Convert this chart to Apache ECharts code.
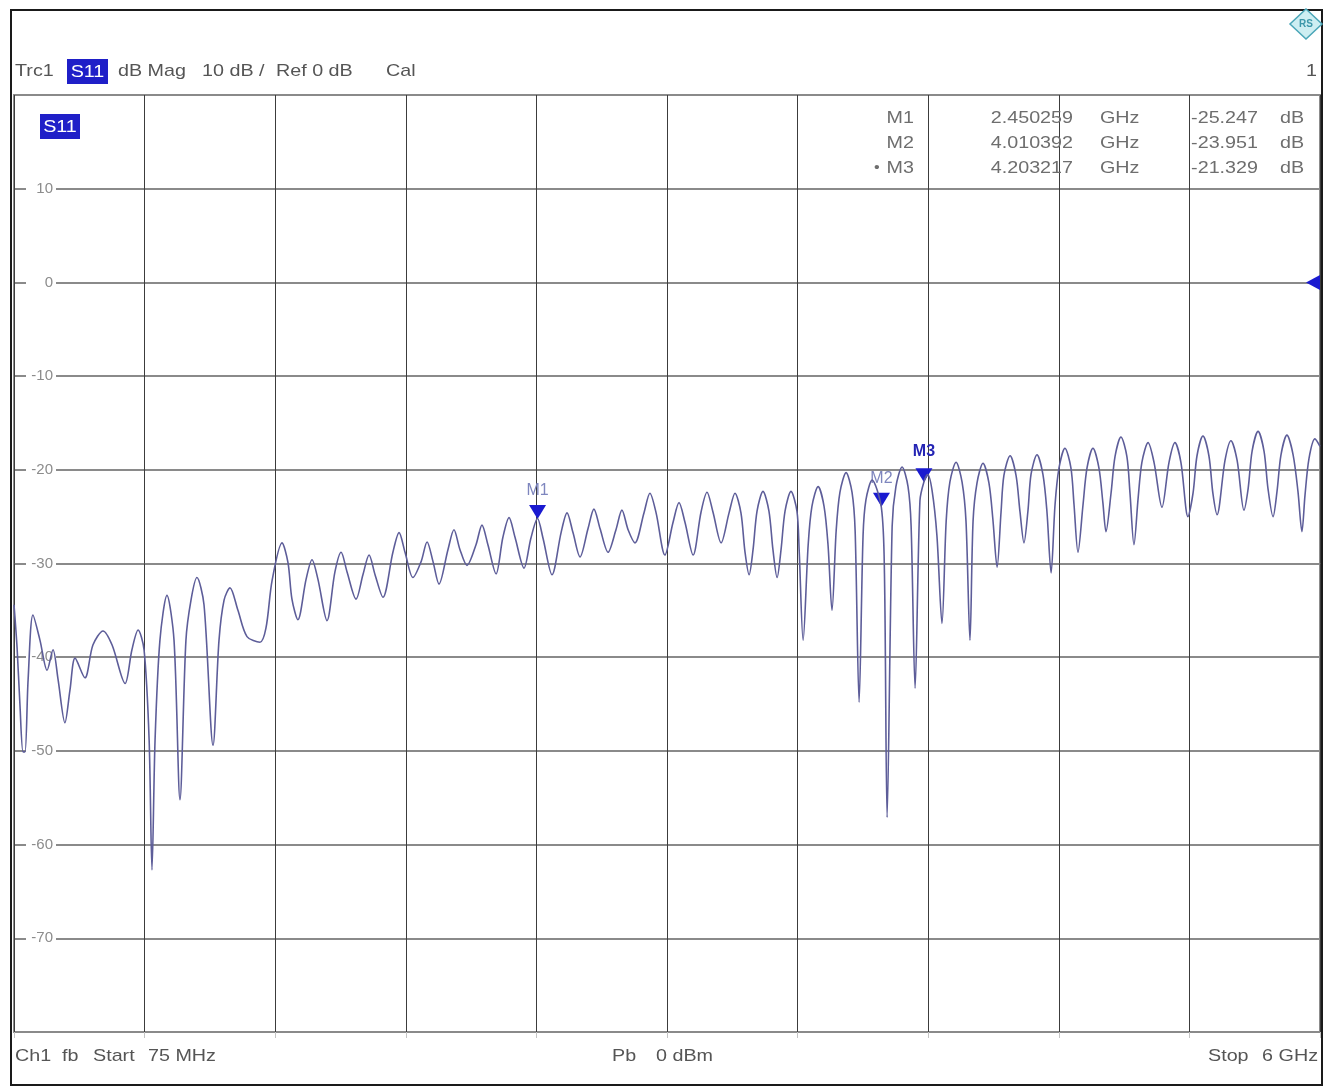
<!DOCTYPE html>
<html><head><meta charset="utf-8">
<script src="https://cdn.jsdelivr.net/npm/echarts/dist/echarts.min.js"></script>
<style>html,body{margin:0;padding:0;background:#fff}#c{width:1329px;height:1088px}</style>
</head><body><div id="c"></div>
<script>
// ---- data (frequency in MHz, S11 in dB) ----
const freqMHz = [
75,89,102,116,125,139,161,193,225,252,275,306,329,352,397,433,479,520,579,610,638,665,688,701,715,737,769,801,828,855,878,905,937,978,1005,1028,1055,1091,1132,1191,1218,1246,1291,
1318,1336,1363,1400,1427,1454,1495,1531,1559,1586,
1627,1658,1686,1713,1749,1794,1822,1849,1885,1922,
1949,1976,2003,2044,2071,2098,2130,2171,2198,2225,
2262,2293,2321,2348,2389,2420,2450,2475,2516,2557,
2584,2611,2643,2679,2706,2734,2770,2806,2833,2861,
2892,2933,2960,2988,3028,3065,3092,3119,3156,3192,
3219,3246,3283,3319,3346,3373,3391,3410,3428,3446,
3473,3500,3518,3537,3555,3573,3600,3627,3637,3655,
3678,3695,3723,3750,3768,3786,3805,3822,3850,3877,
3891,3909,3927,3940,3968,4010,4024,4036,4059,4076,
4104,4131,4145,4163,4185,4203,4220,4240,4262,4285,
4304,4321,4349,4376,4394,4412,4426,4444,4471,4498,
4516,4535,4553,4566,4594,4621,4639,4657,4675,4689,
4716,4743,4761,4780,4798,4816,4843,4870,4884,4902,
4925,4943,4970,4997,5015,5029,5052,5070,5097,5124,
5138,5156,5175,5192,5220,5247,5283,5315,5342,5369,
5401,5424,5442,5469,5496,5514,5533,5569,5596,5624,
5655,5674,5692,5719,5746,5764,5787,5805,5823,5850,
5878,5900,5918,5932,5950,5977,6000];
const s11dB = [
-34.4,-39.0,-45.1,-50.1,-50.1,-42.4,-35.5,-38.2,-41.4,-39.2,-42.4,-47.0,-43.5,-40.1,-42.2,-38.7,-37.2,-38.7,-42.8,-39.2,-37.1,-39.2,-48.8,-62.7,-48.8,-38.2,-33.4,-38.2,-55.2,-38.2,-33.9,-31.5,-34.4,-49.4,-38.2,-33.9,-32.6,-35.0,-37.8,-38.4,-36.9,-31.8,-27.8,
-29.9,-33.8,-36.0,-31.7,-29.6,-31.7,-36.1,-30.9,-28.8,-30.9,
-33.8,-31.2,-29.1,-31.2,-33.6,-28.8,-26.7,-28.8,-31.5,-29.8,
-27.7,-29.8,-32.2,-28.5,-26.4,-28.5,-30.2,-28.0,-25.9,-28.0,
-31.1,-27.2,-25.1,-27.2,-30.5,-27.3,-25.2,-27.3,-31.2,-26.7,
-24.6,-26.7,-29.3,-26.3,-24.2,-26.3,-28.8,-26.4,-24.3,-26.4,
-27.8,-24.6,-22.5,-24.6,-29.1,-25.6,-23.5,-25.6,-29.1,-24.5,
-22.4,-24.5,-27.8,-24.6,-22.5,-24.6,-28.7,-31.2,-28.5,-24.4,
-22.3,-24.4,-28.5,-31.5,-28.5,-24.4,-22.3,-24.4,-28.5,-38.2,
-28.0,-23.9,-21.8,-23.9,-28.0,-35.0,-26.5,-22.4,-20.3,-22.4,
-26.5,-44.8,-27.0,-23.2,-21.1,-24.0,-31.0,-57.1,-26.0,-21.8,
-19.7,-21.8,-26.0,-43.3,-23.3,-21.3,-20.5,-22.2,-27.0,-36.4,
-25.5,-21.3,-19.2,-21.3,-25.5,-38.2,-25.5,-21.4,-19.3,-21.4,
-25.3,-30.4,-24.5,-20.6,-18.5,-20.6,-24.5,-27.8,-24.4,-20.5,
-18.4,-20.5,-24.4,-31.0,-23.7,-19.8,-17.7,-19.8,-23.7,-28.8,
-23.7,-19.8,-17.7,-19.8,-23.5,-26.6,-22.5,-18.6,-16.5,-18.6,
-22.5,-28.0,-23.0,-19.2,-17.1,-19.2,-24.0,-19.2,-17.1,-19.2,
-25.0,-22.5,-18.5,-16.4,-18.5,-22.5,-24.8,-19.0,-16.9,-19.0,
-24.3,-22.0,-18.0,-15.9,-18.0,-22.0,-25.0,-22.3,-18.4,-16.3,
-18.4,-22.3,-26.6,-22.7,-18.8,-16.7,-17.5];
const markerNames = ['M1','M2','M3'];
const markerFreqMHz = [2450.259, 4010.392, 4203.217];
const markerDB = [-25.247, -23.951, -21.329];
const startMHz = 75, stopMHz = 6000;
const refLevelDB = 0;
const yMin = -80, yMax = 20, yStep = 10;
const divisions = 10;

// ---- helpers ----
const FONT = '"Liberation Sans", Arial, sans-serif';
function txt(s, x, y, o) {
  o = o || {};
  const al = o.align || 'left';
  return {type:'text', x:x, y:y, scaleX:o.sx || 1.16, z:100, silent:true,
    style:{text:s, fill:o.fill || '#555', fontSize:o.size || 17, fontFamily:FONT,
      fontWeight:o.weight || 'normal', align:al, textAlign:al,
      verticalAlign:'middle', textVerticalAlign:'middle'}};
}
const BLUE = '#1f1fc8';
const els = [];
els.push({type:'rect', z:0, silent:true, shape:{x:11, y:10, width:1311, height:1075}, style:{fill:'none', stroke:'#1a1a1a', lineWidth:2}});
// header
els.push(txt('Trc1', 15, 71));
els.push({type:'rect', z:99, silent:true, shape:{x:67, y:59, width:41, height:25}, style:{fill:BLUE}});
els.push(txt('S11', 87.5, 72, {fill:'#fff', align:'center'}));
els.push(txt('dB Mag', 118, 71));
els.push(txt('10 dB /', 202, 71));
els.push(txt('Ref 0 dB', 276, 71));
els.push(txt('Cal', 386, 71));
els.push(txt('1', 1317, 71, {align:'right'}));
// R&S logo
els.push({type:'polygon', z:100, silent:true, shape:{points:[[1306,9],[1322,24],[1306,39],[1290,24]]}, style:{fill:'#cdeef2', stroke:'#4aa6b8', lineWidth:1.5}});
els.push({type:'text', z:101, silent:true, x:1306, y:24, style:{text:'RS', fill:'#3d97aa', fontSize:10, fontFamily:FONT, fontWeight:'bold', align:'center', textAlign:'center', verticalAlign:'middle', textVerticalAlign:'middle'}});
// in-plot trace label
els.push({type:'rect', z:99, silent:true, shape:{x:40, y:114, width:40, height:25}, style:{fill:BLUE}});
els.push(txt('S11', 60, 127, {fill:'#fff', align:'center'}));
// marker table
markerNames.forEach(function(n, i){
  const y = 118 + i * 25;
  const c = '#6e6e6e';
  els.push(txt(n, 914, y, {align:'right', fill:c}));
  els.push(txt((markerFreqMHz[i] / 1000).toFixed(6), 1073, y, {align:'right', fill:c}));
  els.push(txt('GHz', 1100, y, {fill:c}));
  els.push(txt(markerDB[i].toFixed(3), 1258, y, {align:'right', fill:c}));
  els.push(txt('dB', 1280, y, {fill:c}));
});
els.push(txt('\u2022', 874, 168, {fill:'#6e6e6e', size:14}));
// footer
els.push(txt('Ch1', 15, 1056));
els.push(txt('fb', 62, 1056));
els.push(txt('Start', 93, 1056));
els.push(txt(startMHz + ' MHz', 148, 1056));
els.push(txt('Pb', 612, 1056));
els.push(txt('0 dBm', 656, 1056));
els.push(txt('Stop', 1208, 1056));
els.push(txt((stopMHz / 1000) + ' GHz', 1318, 1056, {align:'right'}));

const chart = echarts.init(document.getElementById('c'), null, {renderer:'canvas'});
chart.setOption({
  animation: false,
  backgroundColor: '#fff',
  grid: {left:14, top:95, width:1306, height:937, show:true, borderColor:'#8c8c8c', borderWidth:2, backgroundColor:'#fff', containLabel:false, outerBoundsMode:'none'},
  xAxis: [
    {type:'value', min:startMHz, max:stopMHz, show:false},
    {type:'value', min:0, max:divisions, interval:1, position:'bottom',
      axisLine:{show:false}, axisLabel:{show:false},
      axisTick:{show:true, inside:false, length:6, lineStyle:{color:'#c4c4c4', width:1}},
      splitLine:{show:true, lineStyle:{color:'#3c3c3c', width:1}}}
  ],
  yAxis: {type:'value', min:yMin, max:yMax, interval:yStep,
    axisLine:{show:false}, axisTick:{show:false},
    splitLine:{show:true, lineStyle:{color:'#8a8a8a', width:2}},
    axisLabel:{inside:true, margin:42, align:'right', width:24, color:'#8c8c8c', fontSize:15, fontFamily:FONT,
      backgroundColor:'#fff', padding:[0,3],
      formatter:function(v){ return (v === yMax || v === yMin) ? '' : String(v); }}},
  series: [{
    type:'line', xAxisIndex:0, yAxisIndex:0,
    data: freqMHz.map(function(f, i){ return [f, s11dB[i]]; }),
    showSymbol:false, smooth:0.3, clip:true, z:5,
    lineStyle:{color:'#5d5d99', width:1.6},
    markPoint: {
      silent:true, animation:false,
      data: markerNames.map(function(n, i){
        const active = i === markerNames.length - 1;
        return {name:n, coord:[markerFreqMHz[i], markerDB[i]],
          symbol:'path://M0,0L16,0L8,13Z', symbolSize:[17,14], symbolOffset:[0,-7],
          itemStyle:{color:'#1a1ad0'},
          label:{show:true, formatter:n, position:'top', distance: active ? 9 : 6,
            color: active ? '#2424b4' : '#7e86be', fontWeight: active ? 'bold' : 'normal',
            fontSize:16, fontFamily:FONT}};
      }).concat([{name:'ref', coord:[stopMHz, refLevelDB],
          symbol:'path://M13,0L13,14L0,7Z', symbolSize:[14,15], symbolOffset:[-7,0],
          itemStyle:{color:'#1a1ad0'}, label:{show:false}}])
    }
  }],
  graphic: {elements: els}
});
</script>
</body></html>
